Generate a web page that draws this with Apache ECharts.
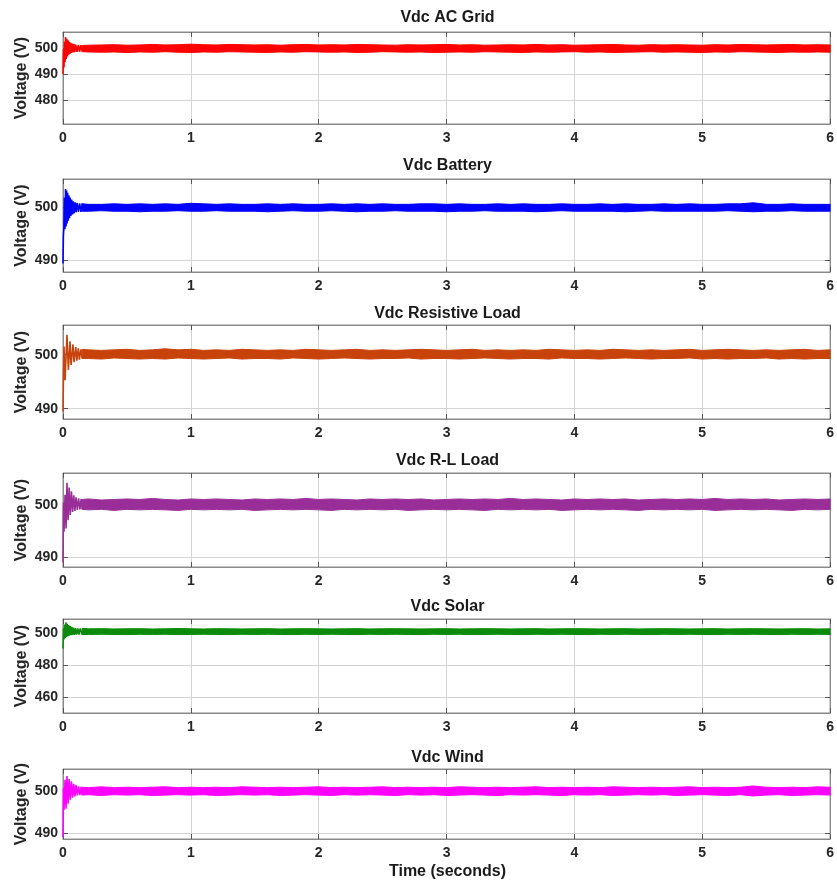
<!DOCTYPE html>
<html>
<head>
<meta charset="utf-8">
<script src="https://cdn.jsdelivr.net/npm/echarts@6/dist/echarts.min.js"></script>
<style>
  html, body { margin: 0; padding: 0; background: #ffffff; }
  #chart { width: 837px; height: 884px; }
</style>
</head>
<body>
<div id="chart"></div>
<script>
// ---- Data: DC-link voltage (V) versus time (s) for each converter ----

// Start-up transients: [time, voltage]
const acGridTransient = [[0,490.0],[0.004,499.5],[0.008,492.5],[0.012,502.5],[0.016,494.5],[0.02,504.3],[0.025,495.8],[0.03,503.6],[0.035,496.8],[0.04,503.0],[0.045,497.4],[0.05,502.4],[0.055,497.8],[0.06,502.0],[0.066,498.1],[0.072,501.7],[0.078,498.3],[0.085,501.5],[0.092,498.4],[0.1,501.3],[0.11,498.5],[0.12,501.2],[0.13,498.5],[0.14,501.1],[0.15,498.6]];
const batteryTransient = [[0,489.3],[0.003,494.5],[0.007,496.0],[0.011,501.8],[0.015,495.8],[0.02,503.4],[0.024,496.3],[0.028,503.1],[0.032,496.9],[0.036,502.7],[0.041,497.4],[0.046,502.2],[0.051,497.9],[0.056,501.8],[0.062,498.3],[0.068,501.4],[0.074,498.6],[0.08,501.1],[0.087,498.8],[0.094,500.9],[0.102,499.0],[0.11,500.8],[0.12,499.1],[0.13,500.7],[0.14,499.1],[0.15,500.7]];
const resistiveTransient = [[0,489.5],[0.004,497.0],[0.008,501.5],[0.016,495.3],[0.031,503.7],[0.042,497.2],[0.055,502.5],[0.063,498.1],[0.078,501.9],[0.086,498.6],[0.1,501.4],[0.108,498.9],[0.12,501.2],[0.128,499.1],[0.14,501.0],[0.15,499.3]];
const rlTransient = [[0,489.0],[0.004,500.5],[0.008,494.9],[0.016,502.0],[0.024,495.5],[0.031,504.3],[0.04,497.1],[0.048,503.4],[0.057,498.1],[0.066,502.7],[0.075,498.7],[0.084,501.9],[0.093,498.9],[0.102,501.5],[0.112,499.1],[0.122,501.3],[0.132,499.2],[0.142,501.2],[0.15,499.2]];
const solarTransient = [[0,490.3],[0.004,503.0],[0.008,496.0],[0.013,505.2],[0.018,496.8],[0.023,506.6],[0.028,497.5],[0.033,505.8],[0.038,498.0],[0.044,505.0],[0.05,498.3],[0.056,504.3],[0.062,498.6],[0.068,503.8],[0.075,498.8],[0.082,503.4],[0.09,498.9],[0.098,503.1],[0.107,499.0],[0.116,502.9],[0.125,499.0],[0.135,502.8],[0.15,499.0]];
const windTransient = [[0,489.0],[0.004,500.8],[0.008,495.5],[0.016,502.8],[0.024,495.8],[0.031,503.7],[0.04,497.0],[0.048,503.0],[0.057,498.0],[0.066,502.4],[0.075,498.5],[0.084,501.8],[0.093,498.8],[0.102,501.5],[0.112,499.0],[0.122,501.2],[0.132,499.1],[0.142,501.1],[0.15,499.1]];

// Steady-state ripple envelope sample times (s)
const envTimes = [
  0.15,0.2,0.3,0.4,0.5,0.6,0.7,0.8,0.9,1.0,
  1.1,1.2,1.3,1.4,1.5,1.6,1.7,1.8,1.9,2.0,
  2.1,2.2,2.3,2.4,2.5,2.6,2.7,2.8,2.9,3.0,
  3.1,3.2,3.3,3.4,3.5,3.6,3.7,3.8,3.9,4.0,
  4.1,4.2,4.3,4.4,4.5,4.6,4.7,4.8,4.9,5.0,
  5.1,5.2,5.3,5.4,5.5,5.6,5.7,5.8,5.9,6.0
];

// Ripple envelopes (upper / lower voltage)
const acGridUpper = [
  501.0,501.1,501.2,501.3,501.1,501.2,501.4,501.2,501.3,501.5,
  501.3,501.2,501.4,501.3,501.2,501.3,501.1,501.3,501.4,501.2,
  501.3,501.2,501.4,501.3,501.2,501.1,501.3,501.2,501.3,501.4,
  501.2,501.3,501.1,501.2,501.3,501.2,501.4,501.2,501.3,501.1,
  501.2,501.3,501.4,501.2,501.1,501.3,501.2,501.3,501.2,501.1,
  501.3,501.2,501.4,501.3,501.2,501.3,501.4,501.2,501.3,501.2];
const acGridLower = [
  498.6,498.5,498.4,498.5,498.3,498.5,498.4,498.6,498.4,498.3,
  498.5,498.4,498.6,498.5,498.4,498.3,498.5,498.4,498.6,498.5,
  498.4,498.5,498.3,498.4,498.6,498.5,498.4,498.5,498.3,498.4,
  498.5,498.4,498.6,498.5,498.4,498.3,498.5,498.4,498.5,498.6,
  498.4,498.5,498.3,498.4,498.5,498.6,498.4,498.5,498.4,498.3,
  498.5,498.4,498.6,498.5,498.4,498.3,498.5,498.4,498.5,498.4];

const batteryUpper = [
  500.6,500.5,500.5,500.6,500.5,500.6,500.5,500.6,500.5,500.7,
  500.6,500.5,500.6,500.5,500.5,500.6,500.5,500.6,500.5,500.5,
  500.6,500.5,500.6,500.5,500.6,500.5,500.5,500.6,500.6,500.5,
  500.6,500.5,500.5,500.6,500.5,500.6,500.5,500.5,500.6,500.5,
  500.5,500.6,500.5,500.6,500.5,500.5,500.6,500.5,500.6,500.5,
  500.5,500.6,500.6,500.8,500.5,500.5,500.6,500.5,500.5,500.5];
const batteryLower = [
  499.2,499.2,499.3,499.2,499.2,499.1,499.2,499.2,499.3,499.2,
  499.2,499.3,499.2,499.2,499.2,499.1,499.2,499.3,499.2,499.2,
  499.3,499.2,499.1,499.2,499.2,499.3,499.2,499.2,499.2,499.1,
  499.2,499.2,499.3,499.2,499.2,499.2,499.1,499.2,499.3,499.2,
  499.2,499.2,499.2,499.1,499.2,499.3,499.2,499.2,499.2,499.2,
  499.2,499.3,499.2,499.1,499.2,499.2,499.3,499.2,499.2,499.2];

const resistiveUpper = [
  501.0,500.9,500.8,500.9,501.0,500.8,500.9,501.1,500.9,501.0,
  500.8,500.9,500.8,501.0,500.9,500.8,500.9,500.8,501.0,500.9,
  500.8,500.9,501.0,500.8,500.9,500.8,500.9,501.0,500.9,500.8,
  500.9,501.0,500.8,500.9,500.8,500.9,500.8,501.0,500.9,500.8,
  500.9,500.8,501.0,500.9,500.8,500.9,500.8,500.9,501.0,500.8,
  500.9,501.0,500.9,500.8,500.9,500.8,500.9,501.0,500.8,500.9];
const resistiveLower = [
  499.3,499.3,499.2,499.4,499.3,499.2,499.3,499.2,499.4,499.3,
  499.2,499.3,499.4,499.2,499.3,499.3,499.2,499.4,499.3,499.2,
  499.3,499.4,499.3,499.2,499.3,499.3,499.4,499.2,499.3,499.3,
  499.2,499.3,499.4,499.3,499.2,499.3,499.3,499.2,499.4,499.3,
  499.3,499.2,499.3,499.4,499.3,499.2,499.3,499.3,499.4,499.2,
  499.3,499.2,499.3,499.3,499.4,499.2,499.3,499.2,499.3,499.3];

const rlUpper = [
  501.1,501.2,501.0,501.1,501.2,501.1,501.3,501.1,501.0,501.2,
  501.1,501.2,501.1,501.0,501.2,501.1,501.2,501.1,501.3,501.1,
  501.2,501.1,501.0,501.2,501.1,501.2,501.1,501.2,501.0,501.1,
  501.2,501.1,501.2,501.1,501.3,501.1,501.2,501.1,501.0,501.2,
  501.1,501.2,501.1,501.2,501.0,501.1,501.2,501.1,501.2,501.1,
  501.3,501.1,501.2,501.1,501.2,501.0,501.1,501.2,501.1,501.2];
const rlLower = [
  499.2,499.1,499.2,499.0,499.2,499.1,499.2,499.1,499.0,499.2,
  499.1,499.2,499.1,499.2,499.0,499.1,499.2,499.1,499.2,499.1,
  499.0,499.2,499.1,499.2,499.1,499.2,499.0,499.1,499.2,499.1,
  499.2,499.1,499.0,499.2,499.1,499.2,499.1,499.2,499.0,499.1,
  499.2,499.1,499.2,499.1,499.0,499.2,499.1,499.2,499.1,499.2,
  499.0,499.1,499.2,499.1,499.2,499.1,499.0,499.2,499.1,499.2];

const solarUpper = [
  502.8,502.6,502.7,502.5,502.6,502.7,502.5,502.6,502.8,502.6,
  502.5,502.7,502.6,502.5,502.6,502.7,502.5,502.6,502.7,502.6,
  502.5,502.6,502.7,502.5,502.6,502.7,502.6,502.5,502.6,502.7,
  502.5,502.6,502.7,502.6,502.5,502.6,502.7,502.5,502.6,502.7,
  502.6,502.5,502.6,502.7,502.5,502.6,502.7,502.6,502.5,502.6,
  502.7,502.5,502.6,502.7,502.6,502.5,502.6,502.7,502.5,502.6];
const solarLower = [
  499.0,499.1,499.2,499.1,499.0,499.2,499.1,499.2,499.0,499.1,
  499.2,499.1,499.0,499.2,499.1,499.2,499.1,499.0,499.2,499.1,
  499.2,499.1,499.0,499.2,499.1,499.2,499.1,499.0,499.2,499.1,
  499.2,499.0,499.1,499.2,499.1,499.0,499.2,499.1,499.2,499.1,
  499.0,499.2,499.1,499.2,499.1,499.0,499.2,499.1,499.2,499.1,
  499.0,499.2,499.1,499.2,499.1,499.0,499.2,499.1,499.2,499.1];

const windUpper = [
  501.0,500.9,501.1,500.9,501.0,500.9,501.0,501.1,500.9,501.0,
  500.9,501.0,500.9,501.1,501.0,500.9,501.0,500.9,501.0,501.1,
  500.9,501.0,500.9,501.0,501.1,500.9,501.0,500.9,501.0,500.9,
  501.1,501.0,500.9,501.0,500.9,501.0,501.1,500.9,501.0,500.9,
  501.0,500.9,501.1,501.0,500.9,501.0,500.9,501.0,501.1,500.9,
  501.0,500.9,501.0,501.3,501.0,500.9,501.0,500.9,501.1,501.0];
const windLower = [
  499.1,499.2,499.0,499.2,499.1,499.2,499.0,499.1,499.2,499.1,
  499.2,499.0,499.1,499.2,499.1,499.2,499.0,499.1,499.2,499.1,
  499.0,499.2,499.1,499.2,499.1,499.0,499.2,499.1,499.2,499.0,
  499.1,499.2,499.1,499.0,499.2,499.1,499.2,499.1,499.0,499.2,
  499.1,499.2,499.0,499.1,499.2,499.1,499.2,499.0,499.1,499.2,
  499.1,499.0,499.2,498.9,499.1,499.2,499.0,499.1,499.2,499.1];

// Axis tick values
const timeTicks = [0, 1, 2, 3, 4, 5, 6];
const titles = ['Vdc AC Grid', 'Vdc Battery', 'Vdc Resistive Load', 'Vdc R-L Load', 'Vdc Solar', 'Vdc Wind'];
const voltageTicks = [[480, 490, 500], [490, 500], [490, 500], [490, 500], [460, 480, 500], [490, 500]];
const voltageRanges = [[470.7, 506.2], [487.7, 505.3], [488.1, 505.5], [488.1, 506.2], [450.3, 508.7], [488.5, 505.4]];

// ---- Presentation ----
const panels = [
  { transient: acGridTransient,    upper: acGridUpper,    lower: acGridLower,    color: '#ff0000' },
  { transient: batteryTransient,   upper: batteryUpper,   lower: batteryLower,   color: '#0000ff' },
  { transient: resistiveTransient, upper: resistiveUpper, lower: resistiveLower, color: '#c8420c' },
  { transient: rlTransient,        upper: rlUpper,        lower: rlLower,        color: '#992e98' },
  { transient: solarTransient,     upper: solarUpper,     lower: solarLower,     color: '#0c8a0c' },
  { transient: windTransient,      upper: windUpper,      lower: windLower,      color: '#ff00ff' }
];
const frames = [
  { top: 32,  height: 92, titleY: 18 },
  { top: 179, height: 93, titleY: 166 },
  { top: 325, height: 94, titleY: 314 },
  { top: 473, height: 94, titleY: 461 },
  { top: 619, height: 94, titleY: 607 },
  { top: 769, height: 70, titleY: 758 }
];
const FONT = '"Liberation Sans", Arial, Helvetica, sans-serif';
const PLOT_LEFT = 63, PLOT_RIGHT = 5;
const boxColor = '#8a8a8a';
const gridColor = '#d4d4d4';
const tickColor = '#555555';
const labelColor = '#262626';

const grids = [], xAxes = [], yAxes = [], series = [], graphics = [];

// Ripple band: one filled polygon from the upper envelope and the reversed lower envelope
function bandRenderer(p) {
  return function (params, api) {
    if (params.dataIndex !== 0) return null;
    const pts = [];
    envTimes.forEach((t, i) => pts.push(api.coord([t, p.upper[i]])));
    for (let i = envTimes.length - 1; i >= 0; i--) pts.push(api.coord([envTimes[i], p.lower[i]]));
    return {
      type: 'polygon',
      shape: { points: pts },
      style: { fill: p.color, stroke: p.color, lineWidth: 1 }
    };
  };
}

panels.forEach((p, k) => {
  const f = frames[k];
  grids.push({
    left: PLOT_LEFT, right: PLOT_RIGHT, top: f.top, height: f.height,
    show: true, borderColor: boxColor, borderWidth: 1, backgroundColor: 'transparent'
  });

  const tickStyle = { show: true, inside: true, length: 5, lineStyle: { color: tickColor, width: 1 } };
  const lineStyle = { show: true, onZero: false, lineStyle: { color: boxColor, width: 1 } };
  const labelStyle = { fontFamily: FONT, fontWeight: 'bold', fontSize: 14, color: labelColor };
  const [yMin, yMax] = voltageRanges[k];
  const yt = voltageTicks[k];

  // bottom time axis
  xAxes.push({
    gridIndex: k, type: 'value', position: 'bottom', min: timeTicks[0], max: timeTicks[timeTicks.length - 1], interval: 1,
    axisLine: lineStyle, axisTick: tickStyle,
    axisLabel: Object.assign({ margin: 7, showMaxLabel: true, showMinLabel: true }, labelStyle),
    splitLine: { show: true, lineStyle: { color: gridColor, width: 1 } }
  });
  // top time axis (ticks only)
  xAxes.push({
    gridIndex: k, type: 'value', position: 'top', min: timeTicks[0], max: timeTicks[timeTicks.length - 1], interval: 1,
    axisLine: lineStyle, axisTick: tickStyle, axisLabel: { show: false }, splitLine: { show: false }
  });
  // left voltage axis
  yAxes.push({
    gridIndex: k, type: 'value', position: 'left', min: yMin, max: yMax,
    axisLine: lineStyle,
    axisTick: Object.assign({ customValues: yt }, tickStyle),
    axisLabel: Object.assign({ customValues: yt, margin: 5 }, labelStyle),
    splitLine: { show: true, lineStyle: { color: gridColor, width: 1 } },
    name: 'Voltage (V)', nameLocation: 'middle', nameGap: 33, nameMoveOverlap: false,
    nameTextStyle: { fontFamily: FONT, fontWeight: 'bold', fontSize: 16, color: labelColor }
  });
  // right voltage axis (ticks only)
  yAxes.push({
    gridIndex: k, type: 'value', position: 'right', min: yMin, max: yMax,
    axisLine: lineStyle,
    axisTick: Object.assign({ customValues: yt }, tickStyle),
    axisLabel: { show: false, customValues: yt }, splitLine: { show: false }
  });

  const xi = 2 * k, yi = 2 * k;
  // start-up oscillation
  series.push({
    type: 'line', xAxisIndex: xi, yAxisIndex: yi, showSymbol: false, symbol: 'none',
    animation: false, silent: true,
    data: p.transient,
    lineStyle: { color: p.color, width: 1.6 }, z: 3
  });
  // steady-state ripple band
  series.push({
    type: 'custom', xAxisIndex: xi, yAxisIndex: yi, coordinateSystem: 'cartesian2d',
    animation: false, silent: true,
    data: envTimes.map((t, i) => [t, p.lower[i], p.upper[i]]),
    encode: { x: 0, y: [1, 2] },
    renderItem: bandRenderer(p), z: 2
  });

  graphics.push({
    type: 'text', x: PLOT_LEFT + (837 - PLOT_LEFT - PLOT_RIGHT) / 2, y: f.titleY,
    style: {
      text: titles[k], font: 'bold 16px ' + FONT, fill: '#1a1a1a',
      textAlign: 'center', textVerticalAlign: 'middle'
    }
  });
});

graphics.push({
  type: 'text', x: PLOT_LEFT + (837 - PLOT_LEFT - PLOT_RIGHT) / 2, y: 872,
  style: {
    text: 'Time (seconds)', font: 'bold 16px ' + FONT, fill: '#1a1a1a',
    textAlign: 'center', textVerticalAlign: 'middle'
  }
});

const chart = echarts.init(document.getElementById('chart'), null, { renderer: 'canvas' });
chart.setOption({
  animation: false,
  backgroundColor: '#ffffff',
  grid: grids,
  xAxis: xAxes,
  yAxis: yAxes,
  series: series,
  graphic: graphics
});
</script>
</body>
</html>
